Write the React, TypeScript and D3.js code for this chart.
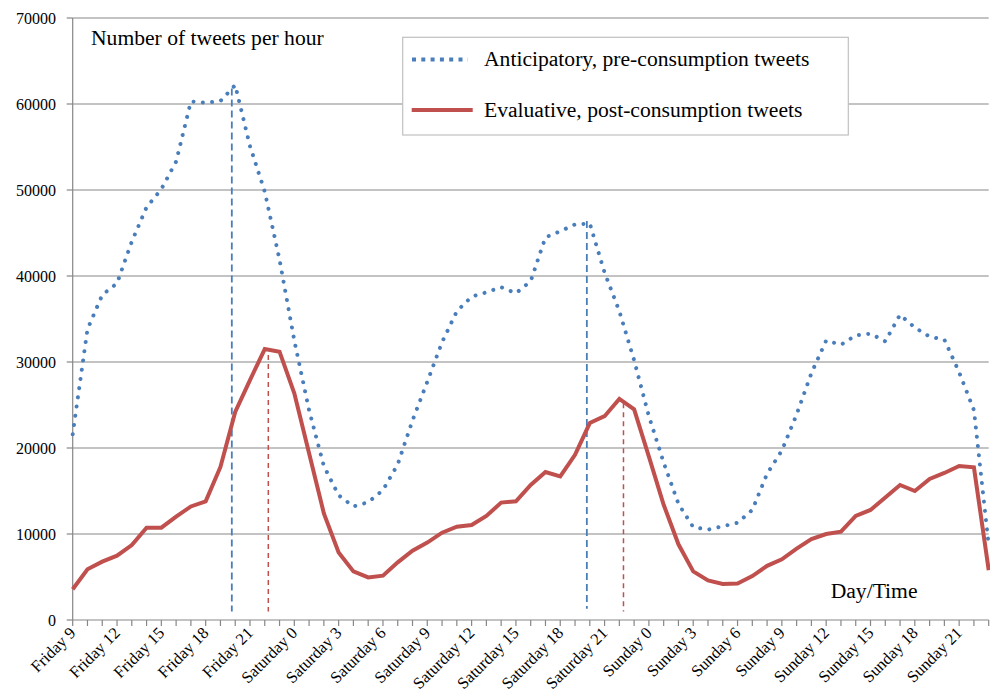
import React from 'react';
import * as d3 from 'd3';

// hourly categories, Friday 9 .. Sunday 23
const dayRanges: [string, number, number][] = [
  ['Friday', 9, 23],
  ['Saturday', 0, 23],
  ['Sunday', 0, 23],
];
const categories: string[] = dayRanges.flatMap(([day, from, to]) =>
  d3.range(from, to + 1).map((h) => `${day} ${h}`)
);

const anticipatory = [
  21600, 33800, 37800, 39150, 44000, 48000, 50100, 53300, 60300, 60150,
  60350, 62200, 55100, 49800, 41900, 32500, 24400, 17900, 14500, 13200,
  13700, 15100, 18100, 23200, 27700, 32300, 35900, 37600, 38100, 38700,
  38000, 39400, 44500, 45200, 46000, 46100, 40400, 35900, 30200, 23700,
  18300, 13500, 10800, 10500, 10900, 11300, 12800, 17000, 19700, 23900,
  28700, 32500, 32000, 33100, 33300, 32400, 35500, 34000, 32950, 32600,
  28800, 24400, 8700,
];

const evaluative = [
  3570, 5890, 6780, 7480, 8720, 10730, 10730, 12010, 13200, 13800,
  17800, 24200, 27900, 31500, 31200, 26350, 19400, 12400, 7850, 5650,
  4950, 5150, 6700, 8050, 9000, 10150, 10850, 11050, 12100, 13650,
  13800, 15700, 17200, 16700, 19200, 22900, 23700, 25700, 24500, 19000,
  13400, 8800, 5650, 4600, 4200, 4250, 5100, 6300, 7050, 8300,
  9400, 10000, 10270, 12100, 12800, 14250, 15700, 15000, 16400, 17100,
  17900, 17750, 5800,
];

const yTicks = [0, 10000, 20000, 30000, 40000, 50000, 60000, 70000];

// peak markers: fractional category position, top and bottom value
const peakMarkers = [
  { series: 'anticipatory', at: 10.77, top: 61800, bottom: 1000 },
  { series: 'evaluative', at: 13.24, top: 30800, bottom: 1000 },
  { series: 'anticipatory', at: 34.8, top: 46400, bottom: 1300 },
  { series: 'evaluative', at: 37.28, top: 25200, bottom: 1000 },
];

const BLUE = '#4a7ebb';
const RED = '#c0504d';
const GRID = '#878787';
const FONT = '"Liberation Serif", "Times New Roman", serif';

export default function App() {
  const width = 990;
  const height = 695;
  const left = 72.7;
  const right = 988.7;
  const top = 18;
  const bottom = 620;

  const x = d3.scaleLinear().domain([0, categories.length - 1]).range([left, right]);
  const y = d3.scaleLinear().domain([0, 70000]).range([bottom, top]);

  const line = d3
    .line<number>()
    .x((_, i) => x(i))
    .y((d) => y(d));

  return (
    <svg
      width={width}
      height={height}
      style={{ position: 'absolute', left: 0, top: 0, background: '#fff' }}
      fontFamily={FONT}
    >
      {/* gridlines */}
      {yTicks.slice(1).map((t) => (
        <line key={t} x1={left} x2={right} y1={y(t)} y2={y(t)} stroke={GRID} strokeWidth={1.2} />
      ))}

      {/* y axis */}
      <line x1={left} x2={left} y1={top} y2={bottom} stroke={GRID} strokeWidth={1.2} />
      {yTicks.map((t) => (
        <g key={t}>
          <line x1={left - 6} x2={left} y1={y(t)} y2={y(t)} stroke={GRID} strokeWidth={1.2} />
          <text x={56} y={y(t)} dy="0.35em" textAnchor="end" fontSize={16} fill="#000">
            {t}
          </text>
        </g>
      ))}

      {/* x axis */}
      <line x1={left} x2={right} y1={bottom} y2={bottom} stroke={GRID} strokeWidth={1.2} />
      {categories.map((c, i) => (
        <line key={c} x1={x(i)} x2={x(i)} y1={bottom} y2={bottom + 6} stroke={GRID} strokeWidth={1.2} />
      ))}
      {categories.map((c, i) =>
        i % 3 === 0 ? (
          <text
            key={c}
            transform={`translate(${x(i) + 4},${bottom + 14}) rotate(-45)`}
            textAnchor="end"
            fontSize={16.5}
            fill="#000"
          >
            {c}
          </text>
        ) : null
      )}

      {/* peak markers */}
      {peakMarkers.map((m, k) => (
        <line
          key={k}
          x1={x(m.at)}
          x2={x(m.at)}
          y1={y(m.top)}
          y2={y(m.bottom)}
          stroke={m.series === 'anticipatory' ? BLUE : RED}
          strokeWidth={m.series === 'anticipatory' ? 1.8 : 1.5}
          strokeDasharray={m.series === 'anticipatory' ? '7 4' : '5 4'}
        />
      ))}

      {/* series */}
      <path
        d={line(anticipatory) || ''}
        fill="none"
        stroke={BLUE}
        strokeWidth={4}
        strokeLinecap="round"
        strokeDasharray="0.01 9.3"
      />
      <path
        d={line(evaluative) || ''}
        fill="none"
        stroke={RED}
        strokeWidth={4}
        strokeLinejoin="miter"
      />

      {/* annotations */}
      <text x={91} y={45} fontSize={21.6} fill="#000">
        Number of tweets per hour
      </text>
      <text x={830.7} y={598} fontSize={21.6} fill="#000">
        Day/Time
      </text>

      {/* legend */}
      <g>
        <rect x={402.7} y={37.3} width={445.6} height={97.7} fill="#fff" stroke="#c0c0c0" strokeWidth={1.2} />
        <line
          x1={412}
          x2={468}
          y1={59.5}
          y2={59.5}
          stroke={BLUE}
          strokeWidth={4}
          strokeDasharray="4 5.3"
        />
        <text x={484} y={66} fontSize={21.6} fill="#000">
          Anticipatory, pre-consumption tweets
        </text>
        <line x1={411.7} x2={472.7} y1={110} y2={110} stroke={RED} strokeWidth={4} />
        <text x={484} y={117} fontSize={21.6} fill="#000">
          Evaluative, post-consumption tweets
        </text>
      </g>
    </svg>
  );
}
